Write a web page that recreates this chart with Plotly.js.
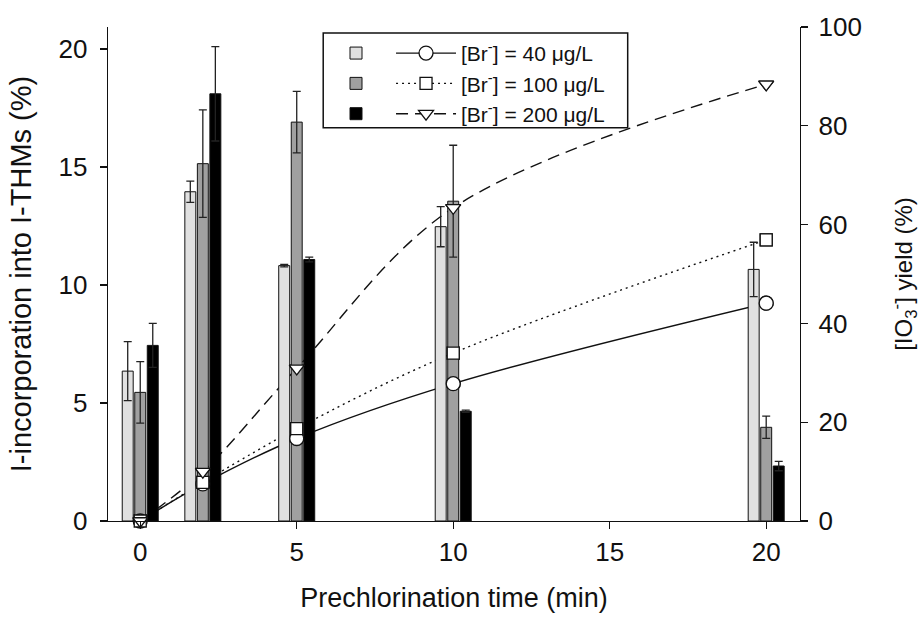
<!DOCTYPE html>
<html>
<head>
<meta charset="utf-8">
<script src="https://cdn.plot.ly/plotly-3.0.1.min.js"></script>
<style>html,body{margin:0;padding:0;background:#fff;}#chart{width:923px;height:624px;}</style>
</head>
<body>
<div id="chart"></div>
<script>
// Prechlorination time (min)
const times = [0, 2, 5, 10, 20];
const xTicks = [0, 5, 10, 15, 20];
const leftTicks = [0, 5, 10, 15, 20];
const rightTicks = [0, 20, 40, 60, 80, 100];
// I-incorporation into I-THMs (%) - bars
const bar40 = [6.35, 13.95, 10.82, 12.47, 10.66];
const err40 = [1.25, 0.45, 0.05, 0.85, 1.15];
const bar100 = [5.45, 15.14, 16.9, 13.55, 3.97];
const err100 = [1.3, 2.28, 1.3, 2.37, 0.47];
const bar200 = [7.44, 18.1, 11.08, 4.65, 2.33];
const err200 = [0.93, 2.0, 0.1, 0.05, 0.2];
// [IO3-] yield (%) - lines
const io3_40 = [0, 7.5, 16.7, 27.8, 44.1];
const io3_100 = [0, 7.8, 18.7, 34.0, 56.9];
const io3_200 = [0, 10.0, 30.9, 63.4, 88.4];
const seriesNames = ['[Br<sup>-</sup>] = 40 μg/L', '[Br<sup>-</sup>] = 100 μg/L', '[Br<sup>-</sup>] = 200 μg/L'];

const FONT = 'Liberation Sans, Arial, Helvetica, sans-serif';
const TXT = '#111';
const barFills = ['#e0e0e0', '#a0a0a0', '#000000'];
const lineDashes = ['solid', '2px,4px', '12px,7px'];
const symbols = ['circle', 'square', 'triangle-down'];
const markerSizes = [14, 12, 13];
const barOffsets = [-0.575, -0.175, 0.225];
const BW = 0.35;

const barVals = [bar40, bar100, bar200];
const errVals = [err40, err100, err200];
const ioVals = [io3_40, io3_100, io3_200];

const traces = [];
for (let i = 0; i < 3; i++) {
  traces.push({
    type: 'scatter', x: times, y: ioVals[i], yaxis: 'y', xaxis: 'x',
    mode: 'lines+markers', name: seriesNames[i], legend: 'legend2',
    line: {color: TXT, width: 1.4, dash: lineDashes[i], shape: 'spline', smoothing: 1},
    marker: {symbol: symbols[i], size: markerSizes[i], color: '#fff', line: {color: TXT, width: 1.3}},
    hoverinfo: 'skip'
  });
}
for (let i = 0; i < 3; i++) {
  traces.push({
    type: 'bar', x: times, y: barVals[i], yaxis: 'y2', xaxis: 'x',
    width: BW, offset: barOffsets[i], name: ' ', legend: 'legend',
    marker: {color: barFills[i], line: {color: TXT, width: 1}},
    error_y: {type: 'data', array: errVals[i], visible: true, color: '#222', thickness: 1.3, width: 4},
    hoverinfo: 'skip'
  });
}
for (let i = 0; i < 3; i++) {
  traces.push({
    type: 'scatter', x: times, y: ioVals[i], yaxis: 'y3', xaxis: 'x',
    mode: 'markers', showlegend: false, cliponaxis: false,
    marker: {symbol: symbols[i], size: markerSizes[i], color: '#fff', line: {color: TXT, width: 1.3}},
    hoverinfo: 'skip'
  });
}

const axisCommon = {
  showgrid: false, zeroline: false, showline: true, linecolor: TXT, linewidth: 1.3,
  ticks: 'outside', ticklen: 7, tickwidth: 1.3, tickcolor: TXT,
  tickfont: {family: FONT, size: 26, color: TXT}
};

const layout = {
  width: 923, height: 624,
  margin: {l: 108, r: 123, t: 27, b: 103, pad: 0},
  paper_bgcolor: '#fff', plot_bgcolor: '#fff',
  barmode: 'overlay',
  font: {family: FONT, color: TXT},
  xaxis: Object.assign({}, axisCommon, {
    range: [-1.03, 21.08], tickvals: xTicks, ticktext: xTicks.map(String),
    ticklabelstandoff: 0,
    title: {text: 'Prechlorination time (min)', font: {family: FONT, size: 27, color: TXT}, standoff: 22}
  }),
  yaxis: Object.assign({}, axisCommon, {
    side: 'right', range: [0, 100], tickvals: rightTicks, ticktext: rightTicks.map(String),
    ticklabelstandoff: 5,
    title: {text: '[IO<sub>3</sub><sup>-</sup>] yield (%)', font: {family: FONT, size: 24, color: TXT}, standoff: 34}
  }),
  yaxis2: Object.assign({}, axisCommon, {
    overlaying: 'y', side: 'left', anchor: 'x', range: [0, 20.93],
    tickvals: leftTicks, ticktext: leftTicks.map(String),
    ticklabelstandoff: 7,
    title: {text: 'I-incorporation into I-THMs (%)' + '\u00a0'.repeat(6), font: {family: FONT, size: 29, color: TXT}, standoff: 18}
  }),
  yaxis3: {overlaying: 'y', range: [0, 100], visible: false, anchor: 'x'},
  legend: {
    x: 0.3295, y: 0.988, xanchor: 'left', yanchor: 'top',
    bgcolor: 'rgba(0,0,0,0)', borderwidth: 0, itemwidth: 30, tracegroupgap: 0,
    font: {family: FONT, size: 21, color: TXT}, itemclick: false, itemdoubleclick: false
  },
  legend2: {
    x: 0.409, y: 0.988, xanchor: 'left', yanchor: 'top',
    bgcolor: 'rgba(0,0,0,0)', borderwidth: 0, itemwidth: 60, tracegroupgap: 0,
    font: {family: FONT, size: 21, color: TXT}, itemclick: false, itemdoubleclick: false
  },
  shapes: [{
    type: 'rect', xref: 'paper', yref: 'paper', x0: 0.311, x1: 0.751, y0: 0.796, y1: 0.988,
    line: {color: TXT, width: 1.5}, fillcolor: 'rgba(0,0,0,0)', layer: 'above'
  }]
};

Plotly.newPlot('chart', traces, layout, {staticPlot: true, displayModeBar: false});
</script>
</body>
</html>
